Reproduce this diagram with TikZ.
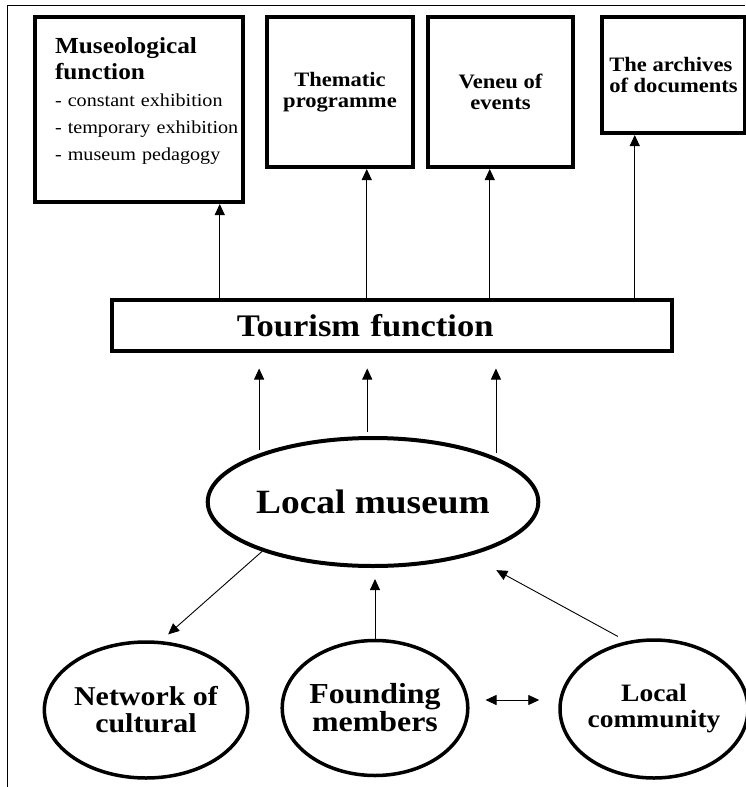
\documentclass[tikz,border=0pt]{standalone}
\usepackage{fontspec}
\setmainfont[FakeStretch=1.1]{Liberation Serif}
\usepackage{tikz}
\usetikzlibrary{shapes.geometric, arrows.meta}

\begin{document}
\begin{tikzpicture}[x=1pt, y=-1pt,
  func/.style={rectangle, draw, line width=4pt, inner sep=0pt,
               align=center, anchor=north west,
               font=\bfseries\fontsize{20.5}{21}\selectfont},
  bar/.style={rectangle, draw, line width=3.5pt, anchor=north west,
              font=\bfseries\fontsize{31.4}{34}\selectfont},
  hub/.style={ellipse, draw, line width=4pt, inner sep=0pt, align=center},
  actor/.style={ellipse, draw, line width=3.5pt, inner sep=0pt, align=center,
                font=\bfseries\fontsize{27.2}{27}\selectfont},
  arrow/.style={-{Triangle[length=11pt, width=10pt]}, line width=0.9pt},
  arrow2/.style={{Triangle[length=11pt, width=10pt]}-{Triangle[length=11pt, width=10pt]},
                 line width=0.9pt},
]
  \useasboundingbox (0,0) rectangle (745,787);
  \draw[line width=1pt] (7,787) -- (7,5) -- (745,5);

  % functions on top
  \node[func, align=left, text width=168pt, inner xsep=20pt, inner ysep=18pt,
        text height=18pt, text depth=131pt,
        font=\fontsize{18.3}{26.8}\selectfont] (museo) at (33,15)
    {{\bfseries\fontsize{23}{26.8}\selectfont Museological}\\
     {\bfseries\fontsize{23}{26.8}\selectfont function}\\
     \mbox{- constant exhibition}\\
     \mbox{- temporary exhibition}\\
     \mbox{- museum pedagogy}};
  \node[func, minimum width=146pt, minimum height=150pt] (theme) at (265,15)
    {Thematic\\programme};
  \node[func, minimum width=145pt, minimum height=150pt] (venue) at (426,15)
    {Veneu of\\events};
  \node[func, align=left, minimum width=143pt, minimum height=116pt] (archive) at (600,15)
    {The archives\\of documents};

  \node[bar, align=left, text width=310pt, inner xsep=125pt, minimum height=51pt]
    (tour) at (110,298) {Tourism function};

  \node[hub, minimum width=310pt, minimum height=128pt,
        font=\bfseries\fontsize{34}{36}\selectfont] (museum) at (373,502) {Local museum};

  \node[actor, minimum width=168pt, minimum height=136pt] (network) at (146,710)
    {Network of\\cultural};
  \node[actor, minimum width=169pt, minimum height=135pt,
        font=\bfseries\fontsize{29}{28}\selectfont] (found) at (375,708)
    {Founding\\members};
  \node[actor, minimum width=156pt, minimum height=138pt,
        font=\bfseries\fontsize{25}{26}\selectfont] (comm) at (654,709)
    {Local\\community};

  % tourism -> functions
  \coordinate (t1) at ([xshift=-172pt]tour.north);
  \coordinate (t2) at ([xshift=-25pt]tour.north);
  \coordinate (t3) at ([xshift=98pt]tour.north);
  \coordinate (t4) at ([xshift=243pt]tour.north);
  \draw[arrow] (t1) -- (t1 |- museo.south);
  \draw[arrow] (t2) -- (t2 |- theme.south);
  \draw[arrow] (t3) -- (t3 |- venue.south);
  \draw[arrow] (t4) -- (t4 |- archive.south);

  % museum -> tourism
  \foreach \a in {157, 95, 20}
    \draw[arrow, shorten <=4pt, shorten >=16pt] (museum.\a) -- (museum.\a |- tour.south);

  \draw[arrow, shorten >=10pt] (museum.204) -- (network.78);
  \draw[arrow, shorten >=11pt] (found.north) -- (found.north |- museum.south);
  \draw[arrow, shorten <=10pt, shorten >=30pt] (comm.112) -- (museum.331);

  \coordinate (fm) at ([yshift=8pt]found.east);
  \draw[arrow2, shorten <=16pt, shorten >=19pt] (fm) -- (fm -| comm.west);
\end{tikzpicture}
\end{document}
